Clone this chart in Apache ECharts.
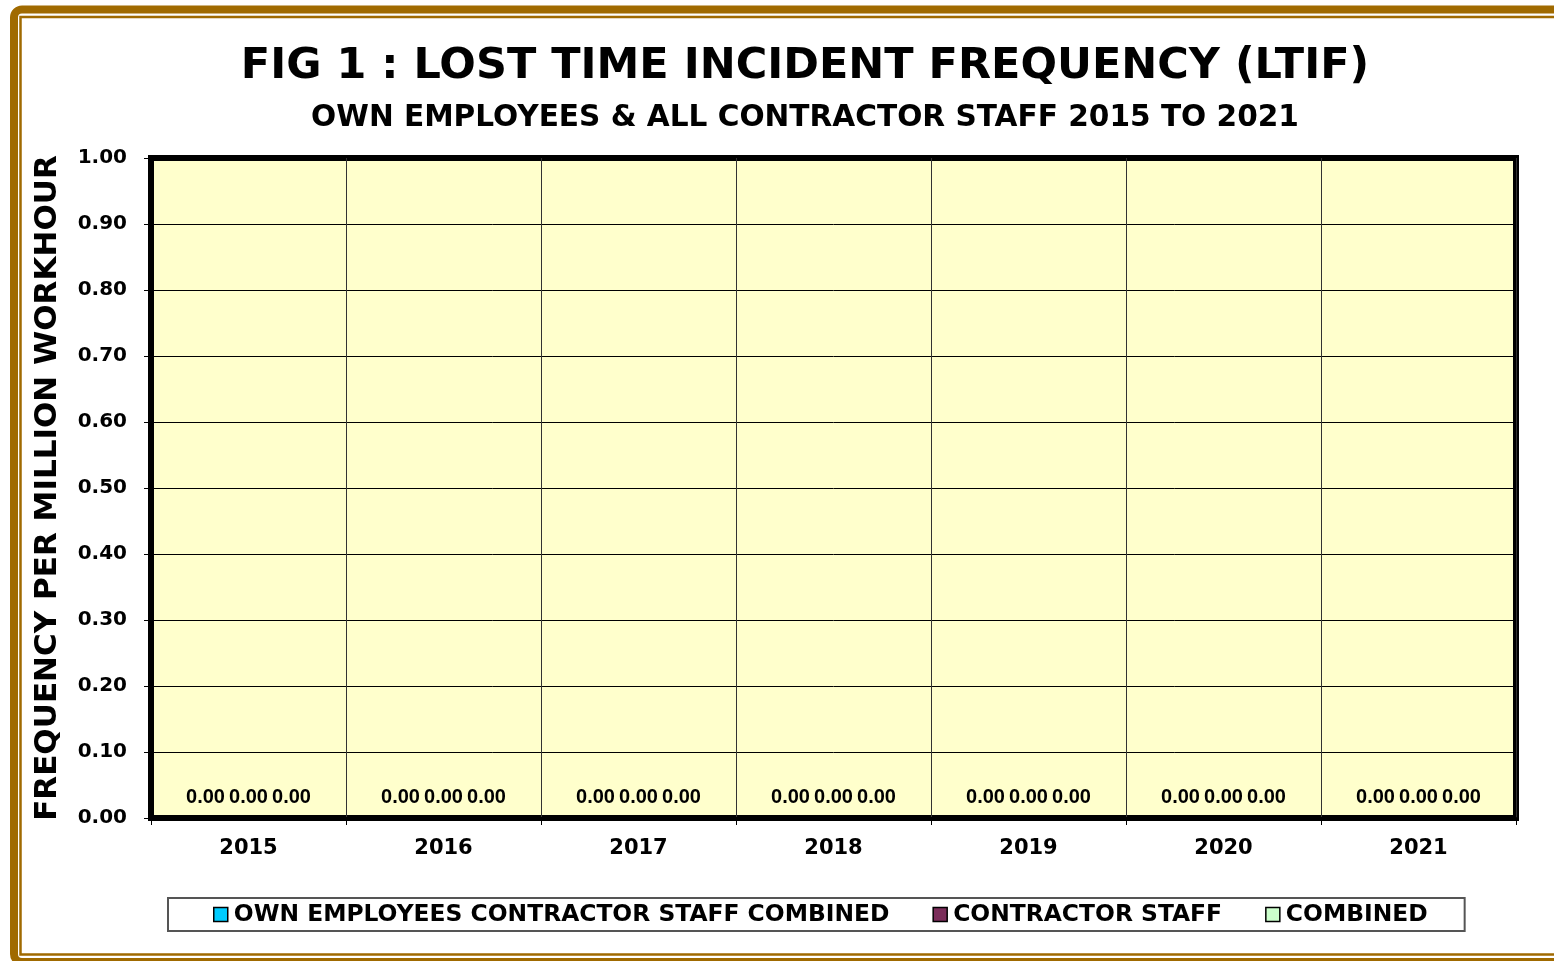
<!DOCTYPE html>
<html>
<head>
<meta charset="utf-8">
<title>LTIF</title>
<script src="https://cdn.jsdelivr.net/npm/echarts@6/dist/echarts.min.js"></script>
<style>
  html, body { margin: 0; padding: 0; background: #fff; }
  #chart { width: 1554px; height: 961px; }
</style>
</head>
<body>
<div id="chart"></div>
<script>
// data
var years = ['2015', '2016', '2017', '2018', '2019', '2020', '2021'];
var ownEmployees = [0, 0, 0, 0, 0, 0, 0];
var contractorStaff = [0, 0, 0, 0, 0, 0, 0];
var combined = [0, 0, 0, 0, 0, 0, 0];
var seriesNames = ['OWN EMPLOYEES CONTRACTOR STAFF COMBINED', 'CONTRACTOR STAFF', 'COMBINED'];

var myChart = echarts.init(document.getElementById('chart'));

var bold = 'DejaVu Sans';
var brown = '#A06A00';

var barLabel = {
    show: true,
    position: 'top',
    distance: 11,
    color: '#000',
    fontFamily: 'Liberation Sans',
    fontWeight: 'bold',
    fontSize: 20,
    formatter: function (p) { return p.value.toFixed(2); }
};

option = {
    backgroundColor: '#fff',
    animation: false,
    graphic: [
        {
            type: 'rect',
            shape: { x: 14, y: 9.5, width: 1620, height: 952.5, r: 8 },
            style: { fill: 'none', stroke: brown, lineWidth: 8 }
        },
        {
            type: 'rect',
            shape: { x: 20.5, y: 17, width: 1600, height: 937.5 },
            style: { fill: 'none', stroke: brown, lineWidth: 2.5 }
        }
    ],
    title: [
        {
            text: 'FIG 1 : LOST TIME INCIDENT FREQUENCY (LTIF)',
            left: 805,
            top: 45,
            padding: 0,
            textAlign: 'center',
            textStyle: { fontFamily: bold, fontWeight: 'bold', fontSize: 43, color: '#000' }
        },
        {
            text: 'OWN EMPLOYEES & ALL CONTRACTOR STAFF 2015 TO 2021',
            left: 805,
            top: 103,
            padding: 0,
            textAlign: 'center',
            textStyle: { fontFamily: bold, fontWeight: 'bold', fontSize: 29.6, color: '#000' }
        }
    ],
    legend: {
        left: 168,
        top: 898,
        padding: [5, 37, 5, 45],
        itemGap: 43,
        itemWidth: 14,
        itemHeight: 14,
        borderColor: '#555',
        borderWidth: 2,
        icon: 'rect',
        data: [
            { name: seriesNames[0], itemStyle: { borderColor: '#000', borderWidth: 1.5 } },
            { name: seriesNames[1], itemStyle: { borderColor: '#000', borderWidth: 1.5 } },
            { name: seriesNames[2], itemStyle: { borderColor: '#000', borderWidth: 1.5 } }
        ],
        textStyle: { fontFamily: bold, fontWeight: 'bold', fontSize: 23.4, color: '#000', padding: [0, 0, 0, 1] }
    },
    grid: {
        left: 151,
        right: 38,
        top: 158,
        bottom: 143,
        show: true,
        backgroundColor: '#FFFFCC',
        borderColor: '#000',
        borderWidth: 6
    },
    xAxis: {
        type: 'category',
        data: years,
        axisLine: { show: true, lineStyle: { color: '#000', width: 2 } },
        axisTick: { show: true, length: 7, lineStyle: { color: '#000' } },
        splitLine: { show: true, lineStyle: { color: '#333', width: 1 } },
        axisLabel: { margin: 20, color: '#000', fontFamily: bold, fontWeight: 'bold', fontSize: 21 }
    },
    yAxis: {
        type: 'value',
        min: 0,
        max: 1,
        interval: 0.1,
        name: 'FREQUENCY PER MILLION WORKHOUR',
        nameLocation: 'middle',
        nameGap: 88,
        nameTextStyle: { fontFamily: bold, fontWeight: 'bold', fontSize: 31, color: '#000' },
        axisLine: { show: true, lineStyle: { color: '#000', width: 2 } },
        axisTick: { show: true, length: 7, lineStyle: { color: '#000' } },
        splitLine: { show: true, lineStyle: { color: '#000', width: 1 } },
        axisLabel: {
            margin: 24,
            color: '#000',
            fontFamily: bold,
            fontWeight: 'bold',
            fontSize: 20,
            formatter: function (v) { return v.toFixed(2); }
        }
    },
    series: [
        {
            name: seriesNames[0],
            type: 'bar',
            data: ownEmployees,
            barWidth: 43,
            barGap: '0%',
            itemStyle: { color: '#00CCFF' },
            label: barLabel
        },
        {
            name: seriesNames[1],
            type: 'bar',
            data: contractorStaff,
            barWidth: 43,
            barGap: '0%',
            itemStyle: { color: '#7B2D5A' },
            label: barLabel
        },
        {
            name: seriesNames[2],
            type: 'bar',
            data: combined,
            barWidth: 43,
            barGap: '0%',
            itemStyle: { color: '#CCFFCC' },
            label: barLabel
        }
    ]
};

myChart.setOption(option);
</script>
</body>
</html>
